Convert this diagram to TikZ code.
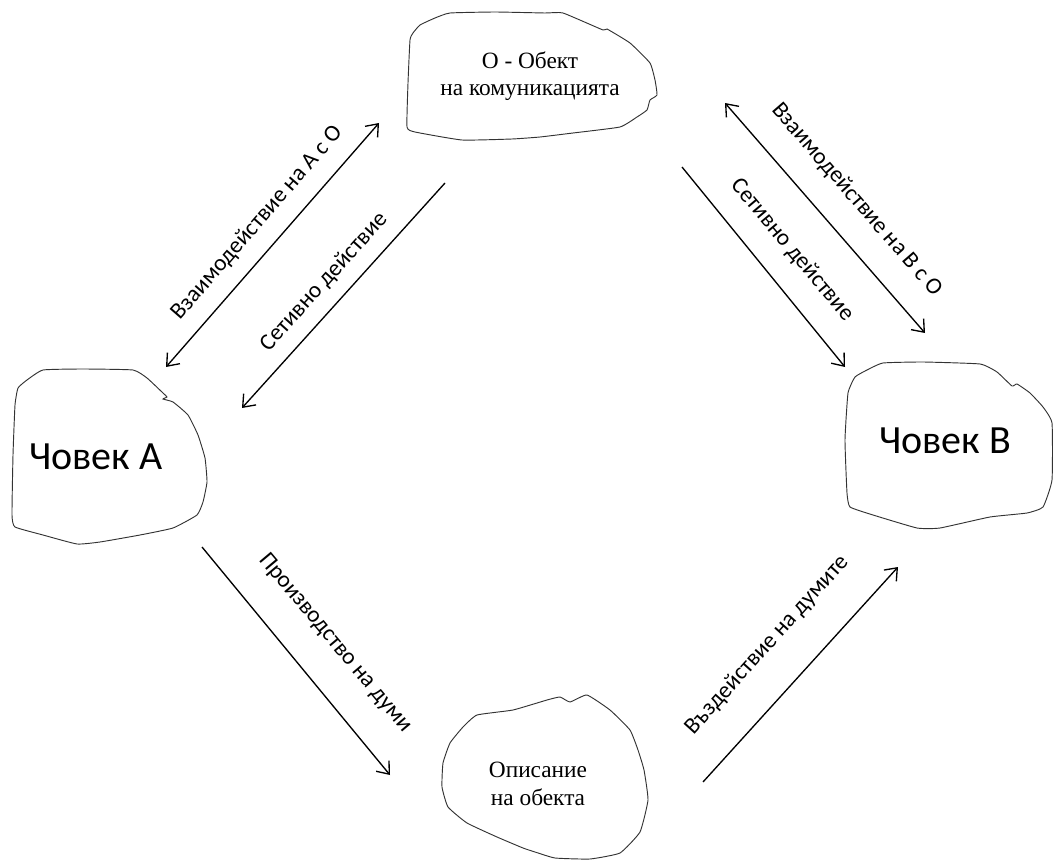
\documentclass[tikz,border=0pt]{standalone}
\usepackage{fontspec}
\setmainfont{Liberation Serif}
\newfontfamily\calibfont{Carlito}
\usepackage{tikz}
\usetikzlibrary{arrows.meta}
\tikzset{
  every node/.style={font=\rmfamily}
}

\begin{document}
\begin{tikzpicture}[x=0.75pt,y=-0.75pt]
  \tikzset{
    blob/.style={
      draw=black!80,
      line width=0.7pt
    },
    blobtext/.style={
      align=center,
      inner sep=0pt,
      font=\rmfamily\fontsize{17.5}{20.5}\selectfont
    },
    persontext/.style={
      inner sep=0pt,
      font=\calibfont\fontsize{30}{36}\selectfont
    },
    arrowlabel/.style={
      inner sep=0pt,
      font=\calibfont\fontsize{17.5}{20}\selectfont
    },
    link/.style={
      draw=black,
      line width=1pt,
      -{Straight Barb[length=2.8mm,width=4.4mm,line width=1pt]}
    },
    duallink/.style={
      link,
      {Straight Barb[length=2.8mm,width=4.4mm,line width=1pt]}-{Straight Barb[length=2.8mm,width=4.4mm,line width=1pt]}
    }
  }
  \useasboundingbox (0,0) rectangle (1054,863);

  % Blobs
  \draw[blob] plot[smooth cycle, tension=0.25] coordinates {
    (420,25) (435,18) (450,13) (495,12) (545,13) (563,13) (603,30) (607,29)
    (630,43) (650,63) (655,80) (657,95) (650,100) (647,110) (637,117)
    (620,127) (573,133) (540,137) (512,139) (462,140) (415,132) (407,127)
    (408,83) (410,40) (413,33)};
  \draw[blob] plot[smooth cycle, tension=0.25] coordinates {
    (27,380) (43,370) (83,369) (133,370) (147,378) (163,393) (167,397)
    (163,399) (173,402) (188,415) (198,435) (205,458) (207,482) (203,502)
    (197,515) (173,528) (140,535) (100,542) (77,544) (43,535) (15,527)
    (12,515) (13,455) (15,405) (18,388)};
  \draw[blob] plot[smooth cycle, tension=0.25] coordinates {
    (867,370) (883,363) (923,362) (980,364) (997,372) (1012,386) (1017,384)
    (1030,393) (1043,407) (1052,423) (1052,480) (1043,507) (1027,513)
    (990,517) (940,528) (917,528) (873,515) (850,507) (847,493) (845,440)
    (848,393) (855,377)};
  \draw[blob] plot[smooth cycle, tension=0.25] coordinates {
    (477,715) (513,710) (547,700) (560,697) (570,702) (587,695) (610,710)
    (630,730) (638,750) (644,770) (648,800) (640,832) (620,853) (590,859)
    (555,858) (535,852) (523,848) (497,837) (467,823) (448,807) (442,787)
    (443,763) (450,743) (463,727)};

  % Nodes
  \node[blobtext] (obekt) at (530,76) {О - Обект\\на комуникацията};
  \node[persontext] (chovekA) at (96,457) {Човек А};
  \node[persontext] (chovekB) at (945,441) {Човек В};
  \node[blobtext] (opisanie) at (538,784) {Описание\\на обекта};

  % Arrow ends
  \coordinate (vzA1) at (166,367);
  \coordinate (vzA2) at (379,123);
  \coordinate (sA1) at (445,183);
  \coordinate (sA2) at (242,408);
  \coordinate (vzB1) at (725,103);
  \coordinate (vzB2) at (925,333);
  \coordinate (sB1) at (682,167);
  \coordinate (sB2) at (845,367);
  \coordinate (pr1) at (202,547);
  \coordinate (pr2) at (390,775);
  \coordinate (vd1) at (703,782);
  \coordinate (vd2) at (898,567);

  % Edges
  \draw[duallink] (vzA1) -- (vzA2);
  \draw[link] (sA1) -- (sA2);
  \draw[duallink] (vzB1) -- (vzB2);
  \draw[link] (sB1) -- (sB2);
  \draw[link] (pr1) -- (pr2);
  \draw[link] (vd1) -- (vd2);

  % Labels
  \node[arrowlabel, rotate=49] (lvzA) at (257,223) {Взаимодействие на А с О};
  \node[arrowlabel, rotate=48] (lsA) at (324,282) {Сетивно действие};
  \node[arrowlabel, rotate=-49] (lvzB) at (857,200) {Взаимодействие на В с О};
  \node[arrowlabel, rotate=-50] (lsB) at (792,250) {Сетивно действие};
  \node[arrowlabel, rotate=-50] (lpr) at (335,643) {Производство на думи};
  \node[arrowlabel, rotate=48] (lvd) at (767,645) {Въздействие на думите};
\end{tikzpicture}
\end{document}
